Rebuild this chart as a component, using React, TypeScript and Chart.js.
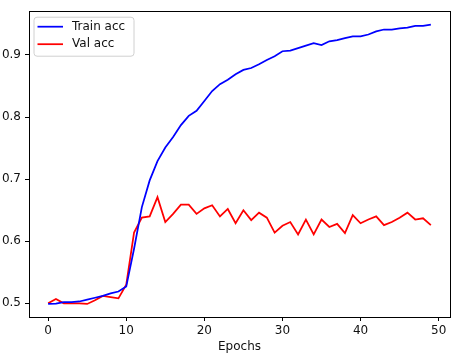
import React, { useEffect, useRef } from "react";
import { Chart, registerables } from "chart.js";

Chart.register(...registerables);

const epochs = [
  0, 1, 2, 3, 4, 5, 6, 7, 8, 9, 10, 11, 12, 13, 14, 15, 16, 17, 18, 19, 20, 21, 22, 23, 24,
  25, 26, 27, 28, 29, 30, 31, 32, 33, 34, 35, 36, 37, 38, 39, 40, 41, 42, 43, 44, 45, 46, 47, 48, 49,
];

const trainAcc = [
  0.499, 0.4995, 0.502, 0.502, 0.503, 0.506, 0.509, 0.512, 0.516, 0.519, 0.527, 0.588, 0.655,
  0.698, 0.729, 0.751, 0.768, 0.787, 0.802, 0.81, 0.826, 0.842, 0.853, 0.86, 0.869, 0.876,
  0.879, 0.885, 0.892, 0.898, 0.906, 0.907, 0.911, 0.915, 0.919, 0.916, 0.922, 0.924, 0.927,
  0.93, 0.93, 0.933, 0.938, 0.941, 0.941, 0.943, 0.944, 0.947, 0.947, 0.949,
];

const valAcc = [
  0.5, 0.507, 0.5, 0.5, 0.5, 0.499, 0.505, 0.512, 0.51, 0.508, 0.53, 0.614, 0.638, 0.64,
  0.671, 0.631, 0.644, 0.659, 0.659, 0.644, 0.653, 0.658, 0.64, 0.652, 0.629, 0.65, 0.634,
  0.646, 0.638, 0.614, 0.625, 0.631, 0.611, 0.635, 0.611, 0.635, 0.623, 0.628, 0.613, 0.642,
  0.629, 0.635, 0.64, 0.626, 0.631, 0.638, 0.646, 0.635, 0.637, 0.626,
];

const seriesLabels = ["Train acc", "Val acc"];
const seriesColors = ["#0000ff", "#ff0000"];
const xTicks = [0, 10, 20, 30, 40, 50];
const yTicks = [0.5, 0.6, 0.7, 0.8, 0.9];
const xTitle = "Epochs";

const FONT = "'DejaVu Sans', sans-serif";
const FS = 12;

const framePlugin = {
  id: "frame",
  afterDatasetsDraw(chart: any) {
    const { ctx, chartArea } = chart;
    ctx.save();
    ctx.strokeStyle = "#000";
    ctx.lineWidth = 1;
    ctx.strokeRect(
      Math.round(chartArea.left) + 0.5,
      Math.round(chartArea.top) + 0.5,
      Math.round(chartArea.right - chartArea.left),
      Math.round(chartArea.bottom - chartArea.top)
    );
    ctx.restore();
  },
};

const legendPlugin = {
  id: "mplLegend",
  afterDraw(chart: any) {
    const { ctx, chartArea } = chart;
    const x0 = chartArea.left + 5;
    const y0 = chartArea.top + 6;
    const w = 100;
    const h = 39;
    ctx.save();
    ctx.beginPath();
    const r = 3;
    ctx.moveTo(x0 + r, y0);
    ctx.lineTo(x0 + w - r, y0);
    ctx.quadraticCurveTo(x0 + w, y0, x0 + w, y0 + r);
    ctx.lineTo(x0 + w, y0 + h - r);
    ctx.quadraticCurveTo(x0 + w, y0 + h, x0 + w - r, y0 + h);
    ctx.lineTo(x0 + r, y0 + h);
    ctx.quadraticCurveTo(x0, y0 + h, x0, y0 + h - r);
    ctx.lineTo(x0, y0 + r);
    ctx.quadraticCurveTo(x0, y0, x0 + r, y0);
    ctx.closePath();
    ctx.fillStyle = "rgba(255,255,255,0.8)";
    ctx.fill();
    ctx.strokeStyle = "#d0d0d0";
    ctx.lineWidth = 1;
    ctx.stroke();
    ctx.font = `${FS}px ${FONT}`;
    ctx.textBaseline = "middle";
    ctx.textAlign = "left";
    seriesLabels.forEach((label, i) => {
      const y = y0 + 9.5 + i * 17.5;
      ctx.beginPath();
      ctx.strokeStyle = seriesColors[i];
      ctx.lineWidth = 1.75;
      ctx.moveTo(x0 + 3.5, y);
      ctx.lineTo(x0 + 29, y);
      ctx.stroke();
      ctx.fillStyle = "#111";
      ctx.fillText(label, x0 + 38, y);
    });
    ctx.restore();
  },
};

export default function App() {
  const ref = useRef<HTMLCanvasElement | null>(null);

  useEffect(() => {
    const canvas = ref.current;
    if (!canvas) return;
    const datasets = [trainAcc, valAcc].map((vals, i) => ({
      label: seriesLabels[i],
      data: epochs.map((e, j) => ({ x: e, y: vals[j] })),
      borderColor: seriesColors[i],
      backgroundColor: seriesColors[i],
      borderWidth: 1.75,
      pointRadius: 0,
      tension: 0,
      fill: false,
    }));
    const chart = new Chart(canvas, {
      type: "line",
      data: { datasets },
      plugins: [framePlugin, legendPlugin],
      options: {
        animation: false,
        responsive: false,
        maintainAspectRatio: false,
        devicePixelRatio: 1,
        layout: { padding: { top: 3, right: 6, left: 0, bottom: 0 } },
        plugins: { legend: { display: false }, tooltip: { enabled: false } },
        scales: {
          x: {
            type: "linear",
            min: -2.45,
            max: 51.45,
            afterBuildTicks: (s: any) => {
              s.ticks = xTicks.map((v) => ({ value: v }));
            },
            afterFit: (s: any) => {
              s.height = 46;
            },
            grid: { drawOnChartArea: false, drawTicks: true, tickLength: 4, tickColor: "#000" },
            border: { display: true, color: "#000" },
            ticks: {
              color: "#111",
              font: { family: FONT, size: FS },
              padding: 3,
              maxRotation: 0,
              autoSkip: false,
              callback: (v: any) => String(v),
            },
            title: {
              display: true,
              text: xTitle,
              color: "#111",
              font: { family: FONT, size: FS },
              padding: { top: 0, bottom: 9 },
            },
          },
          y: {
            type: "linear",
            min: 0.478,
            max: 0.9705,
            afterBuildTicks: (s: any) => {
              s.ticks = yTicks.map((v) => ({ value: v }));
            },
            afterFit: (s: any) => {
              s.width = 29;
            },
            grid: { drawOnChartArea: false, drawTicks: true, tickLength: 4, tickColor: "#000" },
            border: { display: true, color: "#000" },
            ticks: {
              color: "#111",
              font: { family: FONT, size: FS },
              padding: 4,
              autoSkip: false,
              callback: (v: any) => Number(v).toFixed(1),
            },
          },
        },
      },
    } as any);
    return () => chart.destroy();
  }, []);

  return (
    <div style={{ position: "fixed", left: 0, top: 0, width: 456, height: 363, background: "#fff" }}>
      <canvas ref={ref} width={456} height={363} />
    </div>
  );
}
